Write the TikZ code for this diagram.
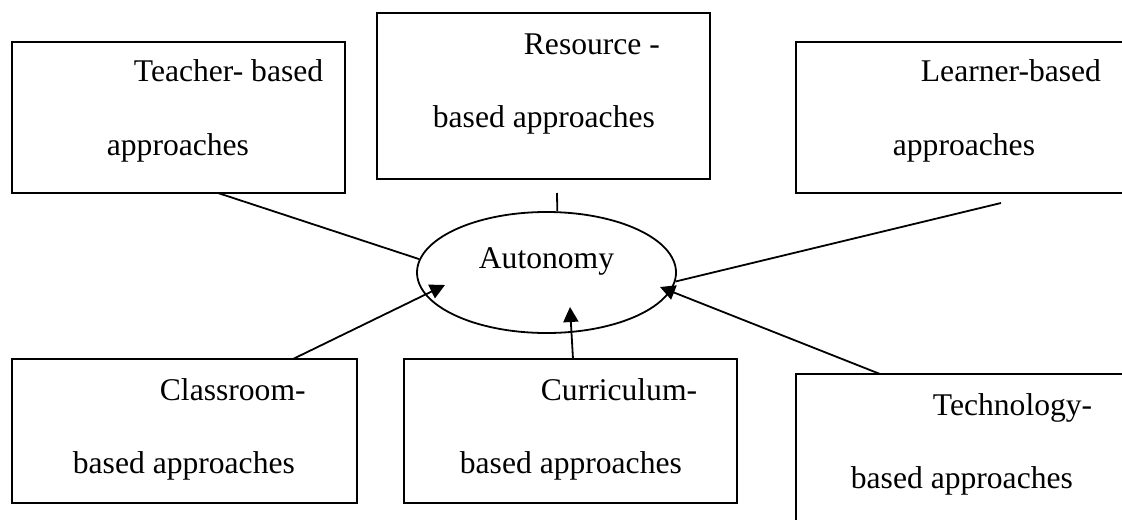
\documentclass[tikz,border=0pt]{standalone}
\usepackage{fontspec}
\setmainfont{Liberation Serif}
\usetikzlibrary{shapes.geometric,arrows.meta}

\begin{document}
\begin{tikzpicture}[x=0.5pt,y=-0.5pt,line width=0.9pt]
        \useasboundingbox (0,0) rectangle (1122,519);
        \begin{scope}[every node/.style={rectangle,draw,anchor=north west,inner sep=0pt,outer sep=0pt}]
            \node[minimum width=166.5pt,minimum height=75.5pt] (Teach) at (12,42) {};
            \node[minimum width=166.5pt,minimum height=83pt] (Res) at (377,13) {};
            \node[minimum width=172pt,minimum height=75.5pt] (Learn) at (796,42) {};
            \node[minimum width=172.5pt,minimum height=72pt] (Class) at (12,359) {};
            \node[minimum width=166.5pt,minimum height=72pt] (Curr) at (404,359) {};
            \node[minimum width=172pt,minimum height=93pt] (Tech) at (796,374) {};
        \end{scope}
        \node[ellipse,draw,minimum width=129.5pt,minimum height=60.5pt,inner sep=0pt,
            font=\fontsize{15.8pt}{19pt}\selectfont,text height=10.5pt,text depth=15pt] (Auto) at (546.5,272.5) {Autonomy};
        % base = baseline of the second line
        \begin{scope}[every node/.style={anchor=base west,align=left,inner sep=0pt,font=\fontsize{15.8pt}{36.5pt}\selectfont}]
            \node (TeachT) at (106,155) {\hspace*{13.5pt}Teacher- based\\approaches};
            \node (ResT) at (432,127) {\hspace*{45.5pt}Resource -\\based approaches};
            \node (LearnT) at (892,155) {\hspace*{14pt}Learner-based\\approaches};
            \node (ClassT) at (72,473) {\hspace*{43.5pt}Classroom-\\based approaches};
            \node (CurrT) at (459,473) {\hspace*{40.5pt}Curriculum-\\based approaches};
            \node (TechT) at (850,488) {\hspace*{41pt}Technology-\\based approaches};
        \end{scope}
            \draw ([xshift=103pt]Teach.south west) -- (Auto.174);
            \draw ([xshift=90pt,yshift=-7pt]Res.south west) -- (Auto.80);
            \draw ([xshift=102.5pt,yshift=-5pt]Learn.south west) -- (Auto.-4);
        \begin{scope}[-{Triangle[length=7.5pt,width=7.5pt]}]
            \draw ([xshift=140.5pt]Class.north west) -- ([xshift=-50.75pt,yshift=-6.25pt]Auto.center);
            \draw ([xshift=84.5pt]Curr.north west) -- ([xshift=11.75pt,yshift=-17.25pt]Auto.center);
            \draw ([xshift=42pt]Tech.north west) -- ([xshift=56.75pt,yshift=-7.25pt]Auto.center);
        \end{scope}
    \end{tikzpicture}
\end{document}
